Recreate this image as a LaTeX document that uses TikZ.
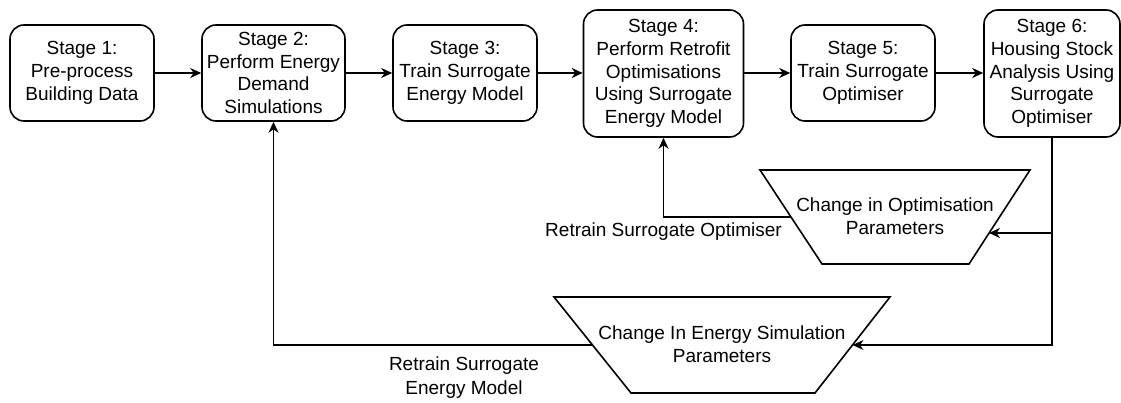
\documentclass[tikz,border=0pt]{standalone}
\usepackage{fontspec}
\setmainfont{Liberation Sans}
\usetikzlibrary{arrows.meta}
\begin{document}
\begin{tikzpicture}[x=1pt,y=-1pt,
  txt/.style={align=center, inner sep=0pt, font=\fontsize{19}{22.7}\selectfont},
  stagebox/.style={txt, draw, line width=1.6pt, rounded corners=14pt},
  flow/.style={line width=1.4pt, -{Stealth[length=11pt,width=10pt,inset=3.5pt]}},
  link/.style={line width=1.4pt},
  trap/.style={line width=1.6pt, line join=miter}]
\useasboundingbox (0,0) rectangle (1121,403);

% pipeline stages
\node[stagebox, minimum width=144pt, minimum height=96pt] (s1) at (82,73)
  {Stage 1:\\Pre-process\\Building Data};
\node[stagebox, minimum width=143pt, minimum height=96pt] (s2) at (273.5,73)
  {Stage 2:\\Perform Energy\\Demand\\Simulations};
\node[stagebox, minimum width=144pt, minimum height=96pt] (s3) at (465,73)
  {Stage 3:\\Train Surrogate\\Energy Model};
\node[stagebox, minimum width=160pt, minimum height=127pt] (s4) at (663.5,73.5)
  {Stage 4:\\Perform Retrofit\\Optimisations\\Using Surrogate\\Energy Model};
\node[stagebox, minimum width=144pt, minimum height=96pt] (s5) at (863,73)
  {Stage 5:\\Train Surrogate\\Optimiser};
\node[stagebox, minimum width=136pt, minimum height=127pt] (s6) at (1052,73.5)
  {Stage 6:\\Housing Stock\\Analysis Using\\Surrogate\\Optimiser};

% parameter-change trapezoids
\draw[trap] (760,170) -- (1030,170) -- (969,264) -- (822,264) -- cycle;
\node[txt] (optchg) at (895,216.5) {Change in Optimisation\\Parameters};
\coordinate (o-in) at (989,233);
\coordinate (o-out) at (791,217);

\draw[trap] (554,297) -- (890,297) -- (815,393) -- (631,393) -- cycle;
\node[txt] (simchg) at (722,344) {Change In Energy Simulation\\Parameters};
\coordinate (e-in) at (852.5,345);
\coordinate (e-out) at (592.5,345);

% forward flow
\draw[flow] (s1.east) -- (s2.west);
\draw[flow] (s2.east) -- (s3.west);
\draw[flow] (s3.east) -- (s3.east -| s4.west);
\draw[flow] (s3.east -| s4.east) -- (s5.west);
\draw[flow] (s5.east) -- (s5.east -| s6.west);

% feedback loops
\draw[flow] (s6.south) |- (e-in);
\draw[flow] (s6.south |- o-in) -- (o-in);
\draw[flow] (o-out) -| (s4.south);
\draw[flow] (e-out) -| (s2.south);

% loop labels
\node[txt] (lblopt) at (663.5,232) {Retrain Surrogate Optimiser};
\node[txt, font=\fontsize{19}{24}\selectfont] (lblsim) at (464,377.5) {Retrain Surrogate\\Energy Model};
\end{tikzpicture}
\end{document}
